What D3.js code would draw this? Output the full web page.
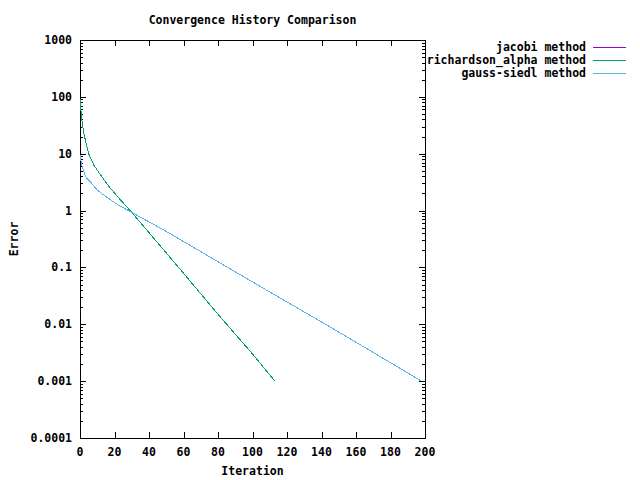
<!DOCTYPE html>
<html>
<head>
<meta charset="utf-8">
<script src="https://cdn.jsdelivr.net/npm/d3@7"></script>
<style>
  body { margin: 0; background: #fff; }
  text { font-family: "DejaVu Sans Mono", monospace; font-weight: bold; font-size: 11.5px; fill: #000; }
</style>
</head>
<body>
<svg id="chart" width="640" height="480"></svg>
<script>
// values
var richIter = [0, 1, 2, 3, 5, 8, 12, 17, 23, 30, 43, 60, 80, 100, 113];
var richErr = [93, 41, 25, 18, 10, 6.3, 4.2, 2.6, 1.6, 0.93, 0.32, 0.079, 0.015, 0.003, 0.001];
// jacobi sits exactly under the richardson line
var jacobiIter = richIter;
var jacobiErr = richErr;
var gsIter = [0, 1, 2, 3, 4, 6, 8, 10, 13, 17, 22, 30, 50, 80, 110, 140, 170, 198];
var gsErr = [9.5, 6.3, 5, 4.2, 3.7, 3.2, 2.7, 2.3, 1.95, 1.6, 1.26, 0.93, 0.43, 0.126, 0.037, 0.011, 0.0032, 0.001];

var xTicks = [0, 20, 40, 60, 80, 100, 120, 140, 160, 180, 200];
var yTicks = [0.0001, 0.001, 0.01, 0.1, 1, 10, 100, 1000];
var yTickLabels = ["0.0001", "0.001", "0.01", "0.1", "1", "10", "100", "1000"];

var seriesNames = ["jacobi method", "richardson_alpha method", "gauss-siedl method"];
var seriesColors = ["#9400d3", "#009e73", "#56b4e9"];

var svg = d3.select("#chart");
// plot box (note: "top" is taken by window.top, so use other names)
var padL = 80, padR = 425, padT = 40, padB = 438;

var x = d3.scaleLinear().domain([0, 200]).range([padL, padR]);
var y = d3.scaleLog().domain([0.0001, 1000]).range([padB, padT]);

// title
svg.append("text").attr("x", (padL + padR) / 2).attr("y", 24)
  .attr("text-anchor", "middle").text("Convergence History Comparison");

var g = svg.append("g").attr("shape-rendering", "crispEdges");

// x ticks, bottom and top, pointing inward
xTicks.forEach(function(t) {
  var px = Math.round(x(t)) + 0.5;
  g.append("line").attr("x1", px).attr("x2", px).attr("y1", padB).attr("y2", padB - 6).attr("stroke", "#000");
  g.append("line").attr("x1", px).attr("x2", px).attr("y1", padT).attr("y2", padT + 6).attr("stroke", "#000");
  svg.append("text").attr("x", x(t)).attr("y", 456).attr("text-anchor", "middle").text(t);
});

// y ticks with minor ones
yTicks.forEach(function(t, i) {
  var py = Math.round(y(t)) + 0.5;
  g.append("line").attr("x1", padL).attr("x2", padL + 6).attr("y1", py).attr("y2", py).attr("stroke", "#000");
  g.append("line").attr("x1", padR).attr("x2", padR - 6).attr("y1", py).attr("y2", py).attr("stroke", "#000");
  svg.append("text").attr("x", 72).attr("y", y(t) + 4).attr("text-anchor", "end").text(yTickLabels[i]);
  if (t < 1000) {
    for (var k = 2; k <= 9; k++) {
      var my = Math.round(y(t * k)) + 0.5;
      g.append("line").attr("x1", padL).attr("x2", padL + 3).attr("y1", my).attr("y2", my).attr("stroke", "#000");
      g.append("line").attr("x1", padR).attr("x2", padR - 3).attr("y1", my).attr("y2", my).attr("stroke", "#000");
    }
  }
});

// frame
g.append("rect").attr("x", padL + 0.5).attr("y", padT + 0.5)
  .attr("width", padR - padL).attr("height", padB - padT)
  .attr("fill", "none").attr("stroke", "#000");

// axis labels
svg.append("text").attr("x", (padL + padR) / 2).attr("y", 475).attr("text-anchor", "middle").text("Iteration");
svg.append("text").attr("transform", "translate(18," + (padT + padB) / 2 + ") rotate(-90)")
  .attr("text-anchor", "middle").text("Error");

// curves, drawn without antialiasing like the png terminal
var line = d3.line().x(function(d) { return x(d[0]); }).y(function(d) { return y(d[1]); });
var allData = [
  d3.zip(jacobiIter, jacobiErr),
  d3.zip(richIter, richErr),
  d3.zip(gsIter, gsErr)
];
allData.forEach(function(pts, i) {
  svg.append("path").datum(pts).attr("d", line)
    .attr("fill", "none").attr("stroke", seriesColors[i]).attr("stroke-width", 1)
    .attr("shape-rendering", "crispEdges");
});

// legend
seriesNames.forEach(function(name, i) {
  var ly = 47 + i * 13;
  svg.append("text").attr("x", 586).attr("y", ly + 4).attr("text-anchor", "end").text(name);
  svg.append("rect").attr("x", 593).attr("y", ly).attr("width", 33).attr("height", 1)
    .attr("fill", seriesColors[i]).attr("shape-rendering", "crispEdges");
});
</script>
</body>
</html>
